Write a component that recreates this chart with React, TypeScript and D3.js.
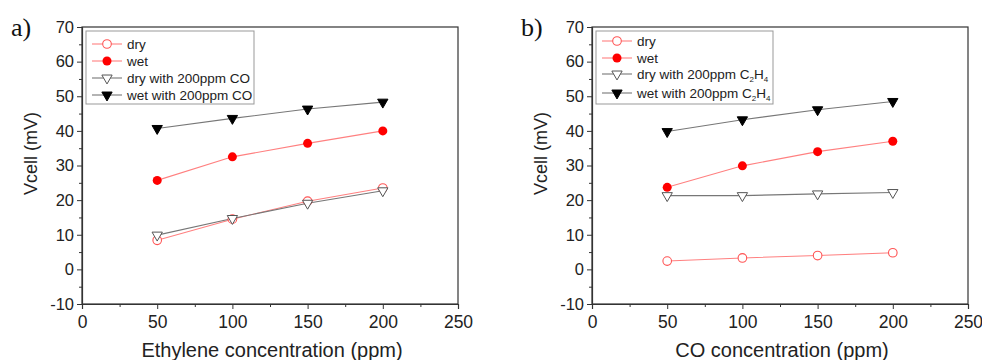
import React, { useEffect, useRef } from "react";
import * as d3 from "d3";

const concentrations = [50, 100, 150, 200];

// panel a: ethylene
const dryA = [8.4, 14.5, 19.7, 23.5];
const wetA = [25.7, 32.5, 36.4, 40.0];
const dryCoA = [9.9, 14.7, 19.1, 22.7];
const wetCoA = [40.7, 43.6, 46.3, 48.3];

// panel b: CO
const dryB = [2.4, 3.3, 4.0, 4.8];
const wetB = [23.7, 29.9, 34.0, 37.0];
const dryC2h4B = [21.3, 21.3, 21.8, 22.2];
const wetC2h4B = [39.8, 43.2, 46.1, 48.5];

const xTicks = [0, 50, 100, 150, 200, 250];
const yTicks = [-10, 0, 10, 20, 30, 40, 50, 60, 70];

type Serie = { label: string; sub?: boolean; values: number[]; kind: string };

const seriesA: Serie[] = [
  { label: "dry", values: dryA, kind: "openCircle" },
  { label: "wet", values: wetA, kind: "filledCircle" },
  { label: "dry with 200ppm CO", values: dryCoA, kind: "openTri" },
  { label: "wet with 200ppm CO", values: wetCoA, kind: "filledTri" },
];

const seriesB: Serie[] = [
  { label: "dry", values: dryB, kind: "openCircle" },
  { label: "wet", values: wetB, kind: "filledCircle" },
  { label: "dry with 200ppm ", sub: true, values: dryC2h4B, kind: "openTri" },
  { label: "wet with 200ppm ", sub: true, values: wetC2h4B, kind: "filledTri" },
];

const FONT = "'Liberation Sans', Arial, sans-serif";

const Panel = ({ series, xTitle, tag, left }: { series: Serie[]; xTitle: string; tag: string; left: number }) => {
  const ref = useRef<SVGGElement>(null);

  useEffect(() => {
    if (!ref.current) return;
    const g = d3.select(ref.current);
    g.selectAll("*").remove();

    const w = 376;
    const h = 277;
    const x = d3.scaleLinear().domain([0, 250]).range([0, w]);
    const y = d3.scaleLinear().domain([-10, 70]).range([h, 0]);

    // marco
    g.append("rect")
      .attr("width", w)
      .attr("height", h)
      .attr("fill", "none")
      .attr("stroke", "#333")
      .attr("stroke-width", 1.2);

    // ticks menores
    const xAxisMin = g.append("g").attr("transform", `translate(0,${h})`)
      .call(d3.axisBottom(x).tickValues(d3.range(25, 250, 50)).tickSize(3).tickFormat(() => ""));
    const yAxisMin = g.append("g")
      .call(d3.axisLeft(y).tickValues(d3.range(-5, 70, 10)).tickSize(3).tickFormat(() => ""));
    [xAxisMin, yAxisMin].forEach((a) => {
      a.select(".domain").remove();
      a.selectAll("line").attr("stroke", "#333");
    });

    const xAxis = g.append("g").attr("transform", `translate(0,${h})`)
      .call(d3.axisBottom(x).tickValues(xTicks).tickSize(5).tickPadding(7).tickFormat((d) => String(d)));
    const yAxis = g.append("g")
      .call(d3.axisLeft(y).tickValues(yTicks).tickSize(5).tickPadding(3).tickFormat((d) => String(d)));
    [xAxis, yAxis].forEach((a) => {
      a.select(".domain").attr("stroke", "#333").attr("stroke-width", 1.2);
      a.selectAll("line").attr("stroke", "#333");
      a.selectAll("text").attr("fill", "#222").style("font-family", FONT);
    });
    xAxis.selectAll("text").style("font-size", "17.5px");
    yAxis.selectAll("text").style("font-size", "16.5px");

    g.append("text")
      .attr("x", w / 2 + 2)
      .attr("y", h + 53)
      .attr("text-anchor", "middle")
      .style("font-size", "20px")
      .style("font-family", FONT)
      .attr("fill", "#222")
      .text(xTitle);

    g.append("text")
      .attr("transform", "rotate(-90)")
      .attr("x", -h / 2 + 12)
      .attr("y", -45)
      .attr("text-anchor", "middle")
      .style("font-size", "18px")
      .style("font-family", FONT)
      .attr("fill", "#222")
      .text("Vcell (mV)");

    g.append("text")
      .attr("x", -71)
      .attr("y", 9)
      .style("font-size", "26px")
      .style("font-family", "'Liberation Serif', 'Times New Roman', serif")
      .attr("fill", "#111")
      .text(tag);

    const lineColor = (k: string) => (k.includes("Circle") ? "#ff8080" : "#777");
    const triUp = d3.symbol().type(d3.symbolTriangle).size(46);

    const drawMarker = (sel: any, kind: string, cx: number, cy: number) => {
      if (kind === "openCircle") {
        sel.append("circle").attr("cx", cx).attr("cy", cy).attr("r", 4.3)
          .attr("fill", "#fff").attr("stroke", "#ff5555").attr("stroke-width", 1.1);
      } else if (kind === "filledCircle") {
        sel.append("circle").attr("cx", cx).attr("cy", cy).attr("r", 4.5).attr("fill", "#ff0000");
      } else {
        sel.append("path")
          .attr("d", triUp())
          .attr("transform", `translate(${cx},${cy}) rotate(180)`)
          .attr("fill", kind === "openTri" ? "#fff" : "#000")
          .attr("stroke", kind === "openTri" ? "#555" : "#000")
          .attr("stroke-width", 1);
      }
    };

    series.forEach((s) => {
      const line = d3.line<number>()
        .x((_, i) => x(concentrations[i]))
        .y((d) => y(d));
      g.append("path")
        .datum(s.values)
        .attr("fill", "none")
        .attr("stroke", lineColor(s.kind))
        .attr("stroke-width", 1.1)
        .attr("d", line);
    });
    series.forEach((s) => {
      s.values.forEach((v, i) => drawMarker(g, s.kind, x(concentrations[i]), y(v)));
    });

    // leyenda
    const lg = g.append("g").attr("transform", "translate(4,4)");
    const lw = series[2].sub ? 177 : 168;
    lg.append("rect")
      .attr("width", lw)
      .attr("height", 73)
      .attr("fill", "#fff")
      .attr("stroke", "#999")
      .attr("stroke-width", 1);
    const rowY = series[2].sub ? [10, 27, 43, 62] : [13, 30, 47, 64];
    series.forEach((s, i) => {
      const ry = rowY[i];
      lg.append("line")
        .attr("x1", 6).attr("x2", 36).attr("y1", ry).attr("y2", ry)
        .attr("stroke", lineColor(s.kind)).attr("stroke-width", 1.1);
      drawMarker(lg, s.kind, 21, ry);
      const t = lg.append("text")
        .attr("x", 41)
        .attr("y", ry + 5)
        .style("font-size", "13.5px")
        .style("font-family", FONT)
        .attr("fill", "#222")
        .text(s.label);
      if (s.sub) {
        t.append("tspan").text("C");
        t.append("tspan").text("2").attr("dy", 3).style("font-size", "8px");
        t.append("tspan").text("H").attr("dy", -3);
        t.append("tspan").text("4").attr("dy", 3).style("font-size", "8px");
      }
    });
  }, [series]);

  return <g ref={ref} transform={`translate(${left},27)`} />;
};

export default function App() {
  return (
    <svg width={982} height={360} style={{ position: "absolute", left: 0, top: 0, background: "#fff" }}>
      <Panel series={seriesA} xTitle="Ethylene concentration (ppm)" tag="a)" left={82} />
      <Panel series={seriesB} xTitle="CO concentration (ppm)" tag="b)" left={592} />
    </svg>
  );
}
